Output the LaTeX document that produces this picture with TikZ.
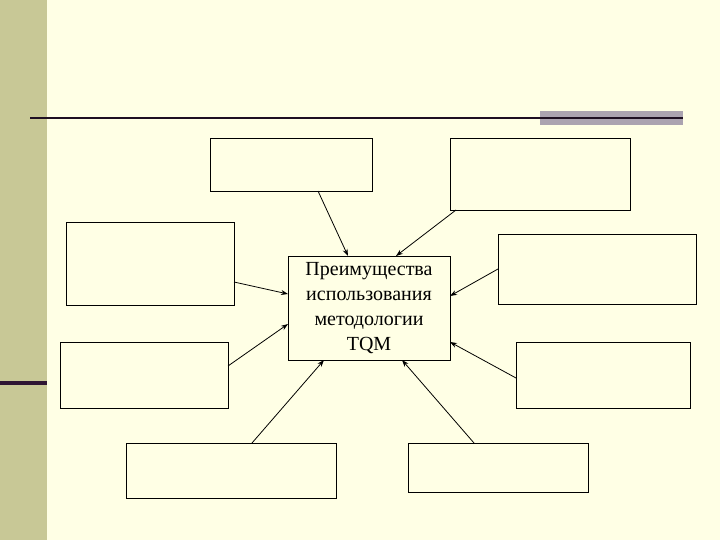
\documentclass[tikz,border=0pt]{standalone}
\usepackage{fontspec}
\setmainfont{Liberation Serif}
\usepackage{tikz}
\usetikzlibrary{arrows.meta}
\usepackage{xcolor}
\definecolor{slidebg}{HTML}{FFFFE5}
\definecolor{stripcol}{HTML}{C8C896}
\definecolor{barcol}{HTML}{ABA3B0}
\definecolor{linecol}{HTML}{1E0F22}
\definecolor{purplecol}{HTML}{2E1533}

\begin{document}
\begin{tikzpicture}[
  x=1pt, y=-1pt,
  every node/.style={align=center},
  box/.style={draw, line width=0.8pt, outer sep=0pt, inner sep=0pt},
  mainbox/.style={draw, line width=0.8pt, outer sep=0pt, inner sep=2pt,
                  minimum width=162pt, minimum height=104pt,
                  font=\fontsize{20}{25}\selectfont},
  arr/.style={-{Stealth[length=7pt,width=5pt]}, line width=0.8pt}
]
\useasboundingbox (0,0) rectangle (720,540);
\fill[slidebg] (0,0) rectangle (720,540);
\fill[stripcol] (0,0) rectangle (47,540);
\fill[purplecol] (0,381) rectangle (47,385);
\fill[barcol] (540,111) rectangle (683,125);
\draw[linecol, line width=1.6pt] (30,118) -- (683,118);

\node[mainbox] (tqm) at (369,308) {Преимущества\\использования\\методологии\\TQM};

\node[box, minimum width=162pt, minimum height=53pt] (tl) at (291,164.5) {};
\node[box, minimum width=180pt, minimum height=72pt] (tr) at (540,174) {};
\node[box, minimum width=168pt, minimum height=83pt] (ml) at (150,263.5) {};
\node[box, minimum width=198pt, minimum height=70pt] (mr) at (597,269) {};
\node[box, minimum width=168pt, minimum height=66pt] (ll) at (144,375) {};
\node[box, minimum width=174pt, minimum height=66pt] (lr) at (603,375) {};
\node[box, minimum width=210pt, minimum height=55pt] (bl) at (231,470.5) {};
\node[box, minimum width=180pt, minimum height=49pt] (br) at (498,467.5) {};

\draw[arr] ([xshift=27pt]tl.south) -- ([xshift=-21pt]tqm.north);
\draw[arr] ([xshift=6pt]tr.south west) -- ([xshift=27pt]tqm.north);
\draw[arr] ([yshift=-18.5pt]ml.east) -- ([yshift=14pt]tqm.west);
\draw[arr] (mr.west) -- ([yshift=12pt]tqm.east);
\draw[arr] ([yshift=9pt]ll.east) -- ([yshift=-16pt]tqm.west);
\draw[arr] ([yshift=-3pt]lr.west) -- ([yshift=-34pt]tqm.east);
\draw[arr] ([xshift=21pt]bl.north) -- ([xshift=-45pt]tqm.south);
\draw[arr] ([xshift=-24pt]br.north) -- ([xshift=33pt]tqm.south);
\end{tikzpicture}
\end{document}
